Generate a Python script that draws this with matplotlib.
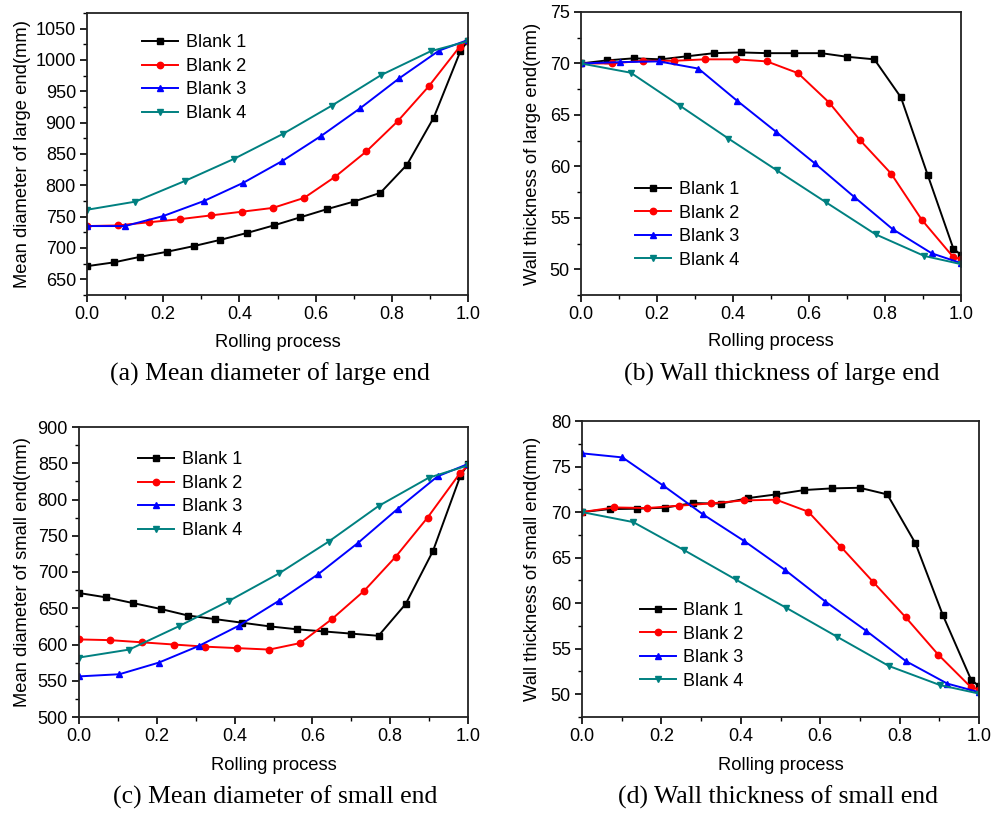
import matplotlib
matplotlib.use("Agg")
import matplotlib.pyplot as plt
from matplotlib.ticker import MultipleLocator, FormatStrFormatter

plt.rcParams['font.family'] = ['Liberation Sans', 'DejaVu Sans']

# ---------------- data ----------------
labels = ["Blank 1", "Blank 2", "Blank 3", "Blank 4"]
colors = ["#000000", "#ff0000", "#0000ff", "#008080"]
markers = ["s", "o", "^", "v"]

# (a) Mean diameter of large end
a_x1 = [0, 0.07, 0.14, 0.21, 0.28, 0.35, 0.42, 0.49, 0.56, 0.63, 0.70, 0.77, 0.84, 0.91, 0.98, 1.0]
a_y1 = [671, 677, 686, 694, 703, 713, 724, 736, 749, 762, 774, 788, 833, 908, 1014, 1031]
a_x2 = [0, 0.081, 0.162, 0.244, 0.325, 0.408, 0.488, 0.57, 0.652, 0.733, 0.815, 0.897, 0.978, 1.0]
a_y2 = [735, 736, 741, 746, 752, 758, 764, 780, 814, 854, 902, 958, 1021, 1031]
a_x3 = [0, 0.10, 0.20, 0.307, 0.41, 0.513, 0.615, 0.717, 0.82, 0.924, 1.0]
a_y3 = [735, 735, 751, 775, 804, 839, 879, 923, 971, 1015, 1032]
a_x4 = [0, 0.127, 0.257, 0.385, 0.514, 0.642, 0.772, 0.902, 1.0]
a_y4 = [761, 774, 807, 842, 882, 927, 976, 1014, 1030]

# (b) Wall thickness of large end
b_x1 = [0, 0.069, 0.139, 0.21, 0.28, 0.35, 0.42, 0.49, 0.561, 0.632, 0.70, 0.772, 0.842, 0.912, 0.98, 1.0]
b_y1 = [70.0, 70.3, 70.5, 70.4, 70.7, 71.0, 71.07, 71.0, 71.0, 71.0, 70.65, 70.4, 66.7, 59.2, 52.0, 51.4]
b_x2 = [0, 0.081, 0.162, 0.245, 0.326, 0.408, 0.489, 0.571, 0.653, 0.734, 0.816, 0.897, 0.98, 1.0]
b_y2 = [70.0, 70.0, 70.26, 70.26, 70.4, 70.4, 70.2, 69.06, 66.2, 62.56, 59.3, 54.8, 51.17, 51.0]
b_x3 = [0, 0.103, 0.205, 0.309, 0.41, 0.513, 0.615, 0.718, 0.82, 0.923, 1.0]
b_y3 = [70.0, 70.13, 70.2, 69.5, 66.4, 63.37, 60.3, 57.06, 53.9, 51.55, 50.6]
b_x4 = [0, 0.131, 0.26, 0.388, 0.516, 0.645, 0.775, 0.903, 1.0]
b_y4 = [70.0, 69.1, 65.9, 62.7, 59.6, 56.5, 53.4, 51.3, 50.5]

# (c) Mean diameter of small end
c_x1 = [0, 0.07, 0.14, 0.21, 0.28, 0.35, 0.42, 0.49, 0.56, 0.63, 0.70, 0.77, 0.84, 0.91, 0.98, 1.0]
c_y1 = [671, 665, 657, 649, 640, 635, 630, 625, 621, 618, 615, 612, 656, 729, 832, 849]
c_x2 = [0, 0.08, 0.162, 0.243, 0.325, 0.407, 0.489, 0.569, 0.65, 0.733, 0.814, 0.896, 0.979, 1.0]
c_y2 = [607, 606, 603, 600, 597, 595, 593, 602, 635, 674, 721, 775, 836, 847]
c_x3 = [0, 0.104, 0.205, 0.308, 0.411, 0.513, 0.615, 0.717, 0.819, 0.922, 1.0]
c_y3 = [556, 559, 575, 598, 626, 660, 697, 740, 787, 832, 849]
c_x4 = [0, 0.129, 0.256, 0.385, 0.514, 0.642, 0.77, 0.899, 1.0]
c_y4 = [582, 593, 625, 660, 698, 742, 791, 830, 847]

# (d) Wall thickness of small end
d_x1 = [0, 0.07, 0.139, 0.209, 0.279, 0.349, 0.419, 0.489, 0.56, 0.629, 0.699, 0.769, 0.84, 0.909, 0.98, 1.0]
d_y1 = [70.0, 70.33, 70.37, 70.48, 70.99, 70.92, 71.54, 71.94, 72.42, 72.6, 72.67, 71.94, 66.56, 58.68, 51.6, 50.88]
d_x2 = [0, 0.081, 0.163, 0.244, 0.325, 0.407, 0.489, 0.57, 0.652, 0.734, 0.815, 0.897, 0.979, 1.0]
d_y2 = [70.0, 70.51, 70.44, 70.7, 70.95, 71.28, 71.36, 70.04, 66.19, 62.3, 58.46, 54.36, 50.8, 50.51]
d_x3 = [0, 0.102, 0.204, 0.305, 0.409, 0.511, 0.613, 0.716, 0.816, 0.92, 1.0]
d_y3 = [76.45, 76.0, 72.93, 69.74, 66.81, 63.66, 60.18, 56.96, 53.63, 51.17, 50.22]
d_x4 = [0, 0.129, 0.258, 0.387, 0.514, 0.643, 0.773, 0.902, 1.0]
d_y4 = [70.0, 68.9, 65.8, 62.6, 59.5, 56.3, 53.1, 51.0, 50.07]

W, H = 1005, 814
fig = plt.figure(figsize=(W / 100, H / 100), dpi=100)


def make_axes(l, r, t, b):
    return fig.add_axes([l / W, 1 - b / H, (r - l) / W, (b - t) / H])


panels = [
    dict(box=(87, 468, 13, 295),
         series=[(a_x1, a_y1), (a_x2, a_y2), (a_x3, a_y3), (a_x4, a_y4)],
         ylim=(625, 1075), ymaj=50, ymin=25,
         ylabel="Mean diameter of large end(mm)",
         caption="(a) Mean diameter of large end", cap=(270, 374),
         leg=(0.126, 0.95), ylx=31, xly=334),
    dict(box=(581, 961, 12, 295),
         series=[(b_x1, b_y1), (b_x2, b_y2), (b_x3, b_y3), (b_x4, b_y4)],
         ylim=(47.5, 75), ymaj=5, ymin=2.5,
         ylabel="Wall thickness of large end(mm)",
         caption="(b) Wall thickness of large end", cap=(782, 374),
         leg=(0.124, 0.428), ylx=541, xly=333),
    dict(box=(79, 468, 427, 717),
         series=[(c_x1, c_y1), (c_x2, c_y2), (c_x3, c_y3), (c_x4, c_y4)],
         ylim=(500, 900), ymaj=50, ymin=25,
         ylabel="Mean diameter of small end(mm)",
         caption="(c) Mean diameter of small end", cap=(275, 797),
         leg=(0.134, 0.941), ylx=31, xly=757),
    dict(box=(582, 979, 421, 717),
         series=[(d_x1, d_y1), (d_x2, d_y2), (d_x3, d_y3), (d_x4, d_y4)],
         ylim=(47.5, 80), ymaj=5, ymin=2.5,
         ylabel="Wall thickness of small end(mm)",
         caption="(d) Wall thickness of small end", cap=(778, 797),
         leg=(0.128, 0.412), ylx=541, xly=757),
]

for p in panels:
    l, r, t, b = p["box"]
    ax = make_axes(l, r, t, b)
    for (xs, ys), lab, c, m in zip(p["series"], labels, colors, markers):
        ax.plot(xs, ys, color=c, marker=m, markersize=4.6, lw=1.4, label=lab)
    ax.set_xlim(0, 1.0)
    ax.set_ylim(*p["ylim"])
    ax.xaxis.set_major_locator(MultipleLocator(0.2))
    ax.xaxis.set_minor_locator(MultipleLocator(0.1))
    ax.xaxis.set_major_formatter(FormatStrFormatter("%.1f"))
    ax.yaxis.set_major_locator(MultipleLocator(p["ymaj"]))
    ax.yaxis.set_minor_locator(MultipleLocator(p["ymin"]))
    ax.yaxis.set_major_formatter(FormatStrFormatter("%d"))
    ax.tick_params(which="major", direction="out", length=5, width=1.2,
                   labelsize=13, pad=3)
    ax.tick_params(which="minor", direction="out", length=3, width=1.0)
    for s in ax.spines.values():
        s.set_linewidth(1.3)
        s.set_color("#222222")
    ax.set_xlabel("Rolling process", fontsize=13.2)
    ax.set_ylabel(p["ylabel"], fontsize=13.2)
    hgt = b - t
    wid = r - l
    ax.xaxis.set_label_coords(0.5, -(p["xly"] - b) / hgt)
    ax.yaxis.set_label_coords(-(l - p["ylx"]) / wid, 0.5)
    ax.legend(loc="upper left", bbox_to_anchor=p["leg"], frameon=False,
              fontsize=13, handlelength=2.0, handletextpad=0.4,
              labelspacing=0.36, borderaxespad=0.0, borderpad=0.4,
              numpoints=1)
    fig.text(p["cap"][0] / W, 1 - p["cap"][1] / H, p["caption"],
             ha="center", va="center", fontsize=18.5,
             family=["Liberation Serif", "DejaVu Serif"])

fig.savefig("out.png", dpi=100, facecolor="white")
